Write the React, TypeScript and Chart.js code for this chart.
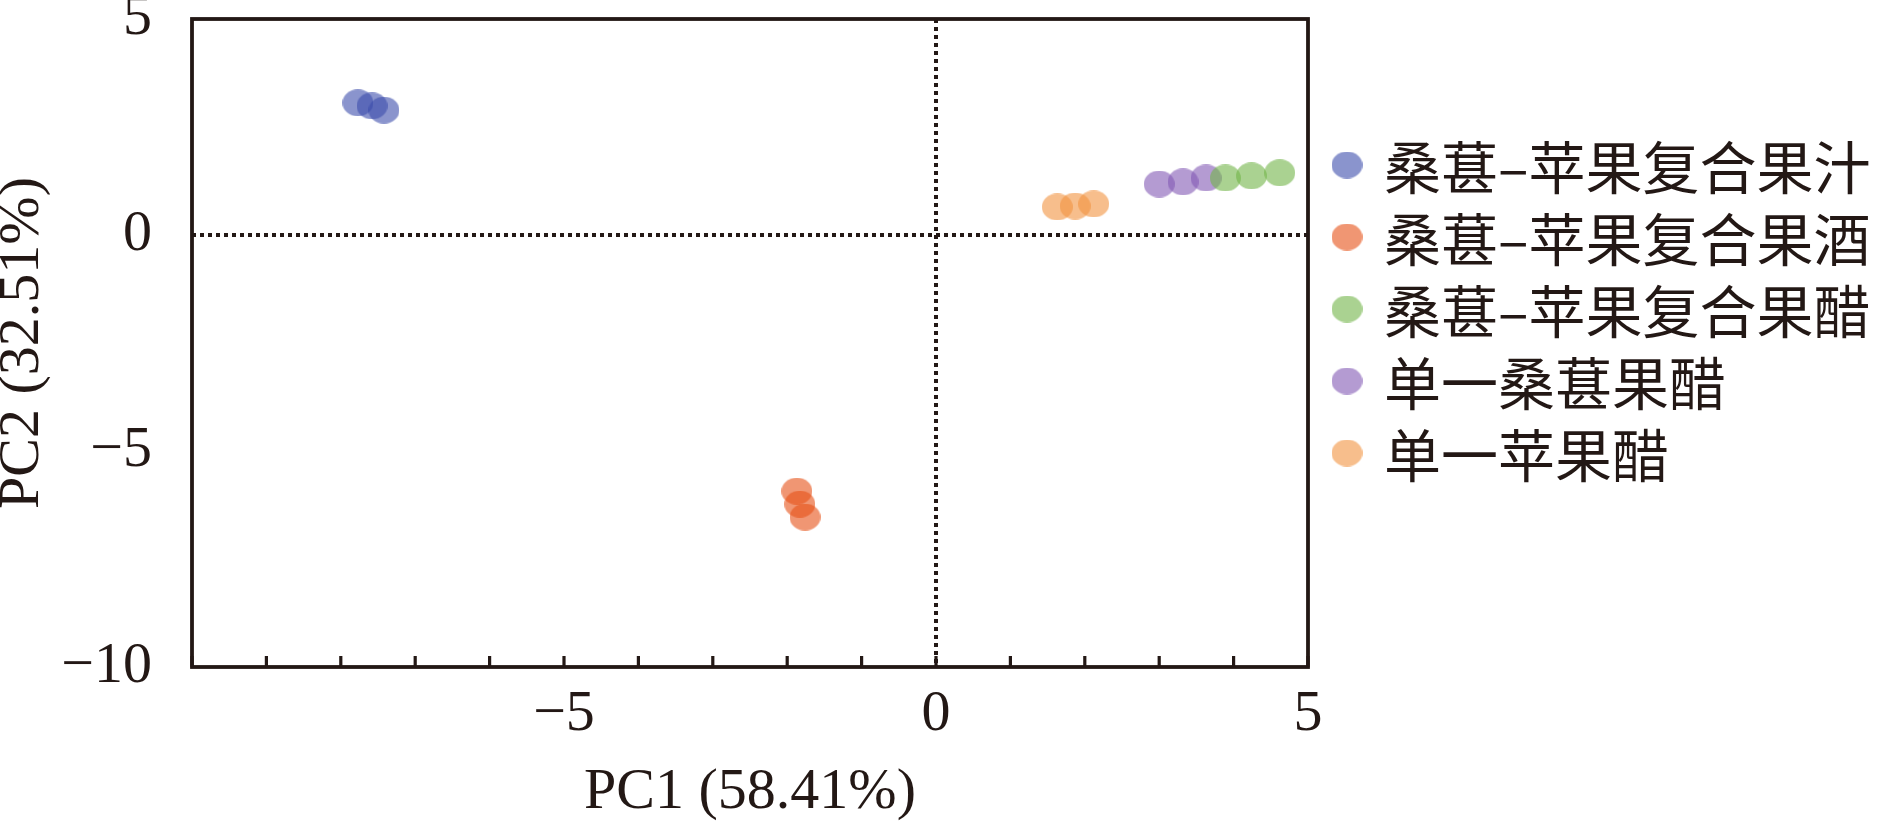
import { useEffect, useRef } from 'react'
import { Chart, registerables } from 'chart.js'
Chart.register(...registerables)

// groups (legend order)
const groups = ['桑葚–苹果复合果汁', '桑葚–苹果复合果酒', '桑葚–苹果复合果醋', '单一桑葚果醋', '单一苹果醋']

// PC1 / PC2 scores
const juicePC1 = [-7.77, -7.58, -7.42]
const juicePC2 = [3.06, 2.99, 2.89]
const winePC1 = [-1.87, -1.83, -1.76]
const winePC2 = [-5.93, -6.23, -6.53]
const mixVinegarPC1 = [3.89, 4.24, 4.62]
const mixVinegarPC2 = [1.32, 1.37, 1.44]
const mulberryPC1 = [3.0, 3.32, 3.63]
const mulberryPC2 = [1.18, 1.23, 1.32]
const applePC1 = [1.63, 1.87, 2.12]
const applePC2 = [0.65, 0.67, 0.72]

const groupPC1 = [juicePC1, winePC1, mixVinegarPC1, mulberryPC1, applePC1]
const groupPC2 = [juicePC2, winePC2, mixVinegarPC2, mulberryPC2, applePC2]
const groupColors = [
  'rgba(60,77,172,0.6)',
  'rgba(230,80,22,0.6)',
  'rgba(113,180,72,0.6)',
  'rgba(130,88,180,0.6)',
  'rgba(242,147,63,0.6)',
]

const xLabelled = [-5, 0, 5]
const ink = '#231815'
const serif = '"Liberation Serif", "Times New Roman", serif'

const fmt = (v: number) => (v < 0 ? '−' + Math.abs(v) : String(v))

const dot = (color: string) => {
  const c = document.createElement('canvas')
  c.width = 31
  c.height = 27
  const g = c.getContext('2d')!
  g.fillStyle = color
  g.beginPath()
  g.ellipse(15.5, 13.5, 15.5, 13.5, 0, 0, Math.PI * 2)
  g.fill()
  return c
}

export default function App() {
  const ref = useRef<HTMLCanvasElement>(null)

  useEffect(() => {
    if (!ref.current) return
    const dots = groupColors.map(dot)

    const frame = {
      id: 'frame',
      beforeDatasetsDraw(chart: any) {
        const { ctx, chartArea: a, scales: { x, y } } = chart
        ctx.save()
        ctx.strokeStyle = ink
        // dotted zero lines
        ctx.lineWidth = 4
        ctx.setLineDash([4, 4])
        const x0 = x.getPixelForValue(0), y0 = y.getPixelForValue(0)
        ctx.beginPath()
        ctx.moveTo(x0, a.top); ctx.lineTo(x0, a.bottom)
        ctx.moveTo(a.left, y0); ctx.lineTo(a.right, y0)
        ctx.stroke()
        ctx.setLineDash([])
        // inward ticks on PC1 axis
        ctx.lineWidth = 3.2
        ctx.beginPath()
        x.ticks.forEach((t: any) => {
          const p = x.getPixelForValue(t.value)
          ctx.moveTo(p, a.bottom); ctx.lineTo(p, a.bottom - 11)
        })
        ctx.stroke()
        ctx.lineWidth = 3.8
        ctx.strokeRect(a.left, a.top, a.right - a.left, a.bottom - a.top)
        ctx.restore()
      },
    }

    const legend = {
      id: 'sideLegend',
      afterDraw(chart: any) {
        const { ctx } = chart
        ctx.save()
        ctx.font = '57px "Noto Sans CJK SC", sans-serif'
        ctx.fillStyle = ink
        ctx.textBaseline = 'middle'
        groups.forEach((g, i) => {
          const yy = 165 + i * 72
          ctx.drawImage(dots[i], 1347 - 15.5, yy - 13.5)
          ctx.fillText(g, 1384, yy + 2)
        })
        ctx.restore()
      },
    }

    const chart = new Chart(ref.current, {
      type: 'scatter',
      data: {
        datasets: groups.map((g, i) => ({
          label: g,
          data: groupPC1[i].map((v, j) => ({ x: v, y: groupPC2[i][j] })),
          pointStyle: dots[i],
          pointRadius: 15,
          backgroundColor: groupColors[i],
          borderWidth: 0,
        })),
      },
      options: {
        responsive: false,
        animation: false,
        events: [],
        layout: { padding: { left: 0, top: 19, right: 569, bottom: 0 } },
        plugins: { legend: { display: false }, tooltip: { enabled: false } },
        scales: {
          x: {
            type: 'linear', min: -10, max: 5,
            grid: { display: false, drawTicks: false },
            border: { display: false },
            ticks: {
              stepSize: 1, autoSkip: false, maxRotation: 0, padding: 13, color: ink,
              font: { family: serif, size: 58, lineHeight: 1.2 },
              callback: (v: any) => (xLabelled.includes(Number(v)) ? fmt(Number(v)) : ''),
            },
            title: { display: true, text: 'PC1 (58.41%)', color: ink, padding: 0, font: { family: serif, size: 58, lineHeight: 1 } },
            afterFit: (s: any) => { s.height = 155; s.paddingLeft = 0; s.paddingRight = 0 },
          },
          y: {
            type: 'linear', min: -10, max: 5,
            grid: { display: false, drawTicks: false },
            border: { display: false },
            ticks: {
              stepSize: 5, padding: 40, color: ink,
              font: { family: serif, size: 58, lineHeight: 1.2 },
              callback: (v: any) => fmt(Number(v)),
            },
            title: { display: true, text: 'PC2 (32.51%)', color: ink, padding: 0, font: { family: serif, size: 58, lineHeight: 0.8 } },
            afterFit: (s: any) => { s.width = 192; s.paddingTop = 0; s.paddingBottom = 0 },
          },
        },
      },
      plugins: [frame, legend],
    } as any)
    return () => chart.destroy()
  }, [])

  return (
    <div style={{ position: 'absolute', left: 0, top: 0, width: 1877, height: 822, background: '#fff' }}>
      <canvas ref={ref} width={1877} height={822} style={{ display: 'block', width: 1877, height: 822 }} />
    </div>
  )
}
